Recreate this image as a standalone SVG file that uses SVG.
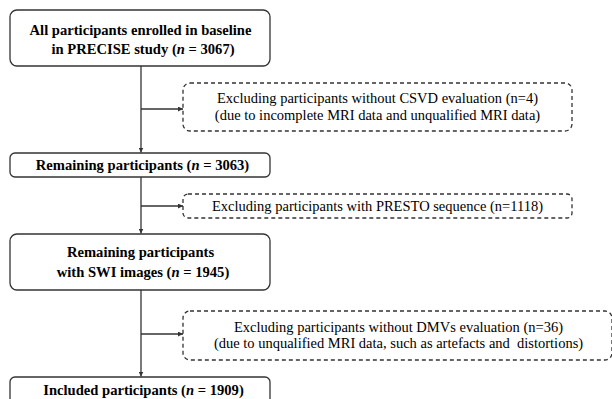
<svg xmlns="http://www.w3.org/2000/svg" width="612" height="399" viewBox="0 0 612 399">
<style>
.box{fill:#fff;stroke:#333;stroke-width:1.3}
.dbox{fill:#fff;stroke:#333;stroke-width:1.3;stroke-dasharray:4,3}
text{font-family:'Liberation Serif','Times New Roman','DejaVu Serif',serif;fill:#000;text-anchor:middle}
.bt{font-size:14.6px;font-weight:bold}
.dt{font-size:14.5px}
.ln{stroke:#333;stroke-width:1.3;fill:none}
</style>
<defs>
<marker id="ah" viewBox="0 0 10 10" refX="10" refY="5" markerWidth="5" markerHeight="5" orient="auto" markerUnits="userSpaceOnUse">
<path d="M0,0 L10,5 L0,10 z" fill="#333"/>
</marker>
</defs>
<rect width="612" height="399" fill="#fff"/>
<g id="connectors">
<path class="ln" d="M141,66 V152.5" marker-end="url(#ah)"/>
<path class="ln" d="M141,109 H183" marker-end="url(#ah)"/>
<path class="ln" d="M141,177 V233.5" marker-end="url(#ah)"/>
<path class="ln" d="M141,206 H183" marker-end="url(#ah)"/>
<path class="ln" d="M141,290 V376.5" marker-end="url(#ah)"/>
<path class="ln" d="M141,334 H183" marker-end="url(#ah)"/>
</g>
<g id="n1">
<rect class="box" x="10" y="10" width="260" height="56" rx="7"/>
<text class="bt" x="140.5" y="34.5">All participants enrolled in baseline</text>
<text class="bt" x="143" y="53.5">in PRECISE study (<tspan font-style="italic">n</tspan> = 3067)</text>
</g>
<g id="x1">
<rect class="dbox" x="183" y="83" width="389" height="48" rx="7"/>
<text class="dt" x="377.5" y="103">Excluding participants without CSVD evaluation (n=4)</text>
<text class="dt" x="377.5" y="120">(due to incomplete MRI data and unqualified MRI data)</text>
</g>
<g id="n2">
<rect class="box" x="10" y="153" width="260" height="24" rx="5"/>
<text class="bt" x="142.5" y="170">Remaining participants (<tspan font-style="italic">n</tspan> = 3063)</text>
</g>
<g id="x2">
<rect class="dbox" x="183" y="194" width="389" height="24" rx="5"/>
<text class="dt" x="377.5" y="211">Excluding participants with PRESTO sequence (n=1118)</text>
</g>
<g id="n3">
<rect class="box" x="10" y="234" width="260" height="56" rx="7"/>
<text class="bt" x="140.5" y="257">Remaining participants</text>
<text class="bt" x="143" y="277">with SWI images (<tspan font-style="italic">n</tspan> = 1945)</text>
</g>
<g id="x3">
<rect class="dbox" x="183" y="311" width="429" height="49" rx="7"/>
<text class="dt" x="398.5" y="332">Excluding participants without DMVs evaluation (n=36)</text>
<text class="dt" x="398.5" y="348" style="white-space:pre">(due to unqualified MRI data, such as artefacts and  distortions)</text>
</g>
<g id="n4">
<rect class="box" x="10" y="377" width="260" height="30" rx="5"/>
<text class="bt" x="143.5" y="395">Included participants (<tspan font-style="italic">n</tspan> = 1909)</text>
</g>
</svg>
